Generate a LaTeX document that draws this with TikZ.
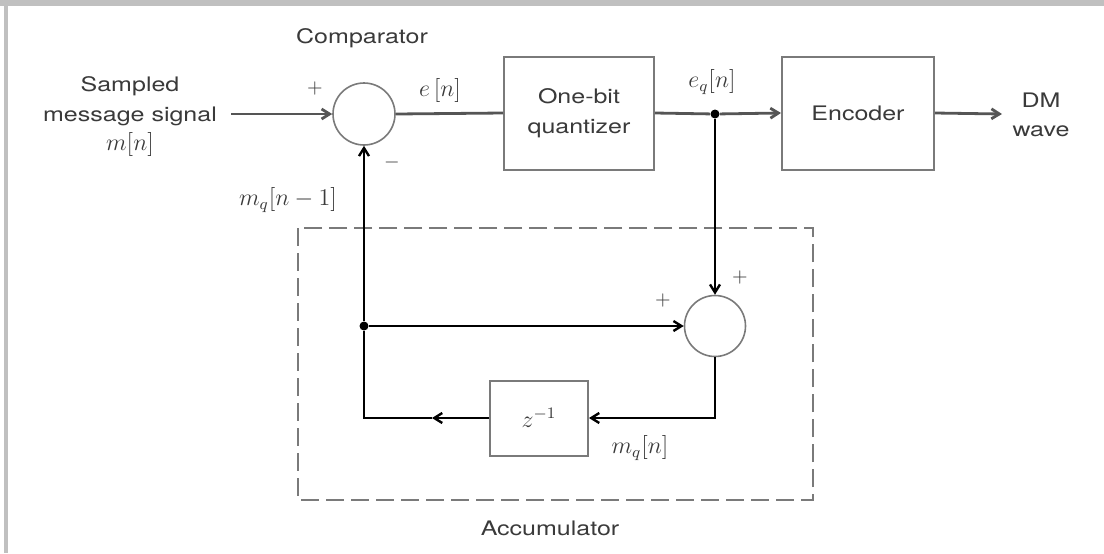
\documentclass[tikz,border=0pt]{standalone}
\usepackage{fontspec}
\setmainfont{TeX Gyre Heros}[FakeStretch=1.25]
\usepackage{tikz}
\usetikzlibrary{calc,positioning,arrows.meta}
\definecolor{sigc}{HTML}{555555}
\definecolor{framec}{HTML}{C0C0C0}
\definecolor{boxc}{HTML}{7A7A7A}
\definecolor{txt}{HTML}{3A3A3A}

\begin{document}
\begin{tikzpicture}[x=0.5pt,y=-0.5pt,>={Straight Barb[length=4pt,width=5pt]},
    every node/.style={font=\fontsize{10}{14.75}\selectfont,text=txt},
    mth/.style={font=\fontsize{12}{14.75}\selectfont},
    blk/.style={draw=boxc,line width=1pt,minimum width=75pt,minimum height=56.5pt,inner sep=0pt,align=center},
    sumc/.style={circle,draw=boxc,line width=0.8pt,minimum size=31pt,inner sep=0pt},
    sig/.style={draw=sigc,line width=1.4pt},
    fb/.style={draw=black,line width=1.2pt},
    jdot/.style={circle,fill=black,inner sep=0pt,minimum size=4.5pt}]
    \useasboundingbox (0,0) rectangle (1104,553);
    \fill[white] (0,0) rectangle (1104,553);
    \fill[framec] (0,0) rectangle (1104,6);
    \fill[framec] (4,0) rectangle (8,553);
    % blocks
    \node[sumc] (cmp) at (364,114) {};
    \node[blk] (quant) at (579,113) {One-bit\\quantizer};
    \node[blk,minimum width=76pt] (enc) at (858,113) {Encoder};
    \node[sumc,minimum size=30.5pt] (add) at (715,326) {};
    \node[blk,mth,minimum width=49pt,minimum height=37.5pt] (dly) at (539,418) {$z^{-1}$};
    \node[jdot] (jq) at (715,114) {};
    \node[jdot] (jl) at (364,326) {};
    \coordinate (in) at (231,114);
    \coordinate (out) at (1002,114);
    \coordinate (mid) at ($(dly.west)+(-57,0)$);
    % accumulator frame
    \draw[boxc,line width=1pt,dash pattern=on 9pt off 3.5pt] (298,228) rectangle (813,500);
    % forward path
    \draw[sig,->] (in) -- (cmp.west);
    \draw[sig] (cmp.east) -- (quant.west);
    \draw[sig] (quant.east) -- (jq);
    \draw[sig,->] (jq) -- (enc.west);
    \draw[sig,->] (enc.east) -- (out);
    % feedback
    \draw[fb,->] (jq) -- (add.north);
    \draw[fb,->] (jl) -- (add.west);
    \draw[fb,->] (add.south) |- (dly.east);
    \draw[fb,->] (dly.west) -- (mid);
    \draw[fb] (mid) -- (jl |- dly.west) -- (jl);
    \draw[fb,->] (jl) -- (cmp.south);
    % labels
    \node[align=center] (src) at (130,117) {Sampled\\message signal\\{\fontsize{12}{14}\selectfont$m[n]$}};
    \node (cmplbl) at (362,38) {Comparator};
    \node (cmpp) at (315,88) {$+$};
    \node (cmpm) at (392,162) {$-$};
    \node[mth] (mqa) at (288,200) {$m_q[n-1]$};
    \node[mth] (en) at (440,90) {$e\,[n]$};
    \node[mth] (eqn) at (712,82) {$e_q[n]$};
    \node[align=center] (dm) at (1041,115) {DM\\wave};
    \node (addt) at (740,277) {$+$};
    \node (addl) at (663,300) {$+$};
    \node[mth] (mqn) at (640,448) {$m_q[n]$};
    \node (acc) at (550,528) {Accumulator};
\end{tikzpicture}
\end{document}
